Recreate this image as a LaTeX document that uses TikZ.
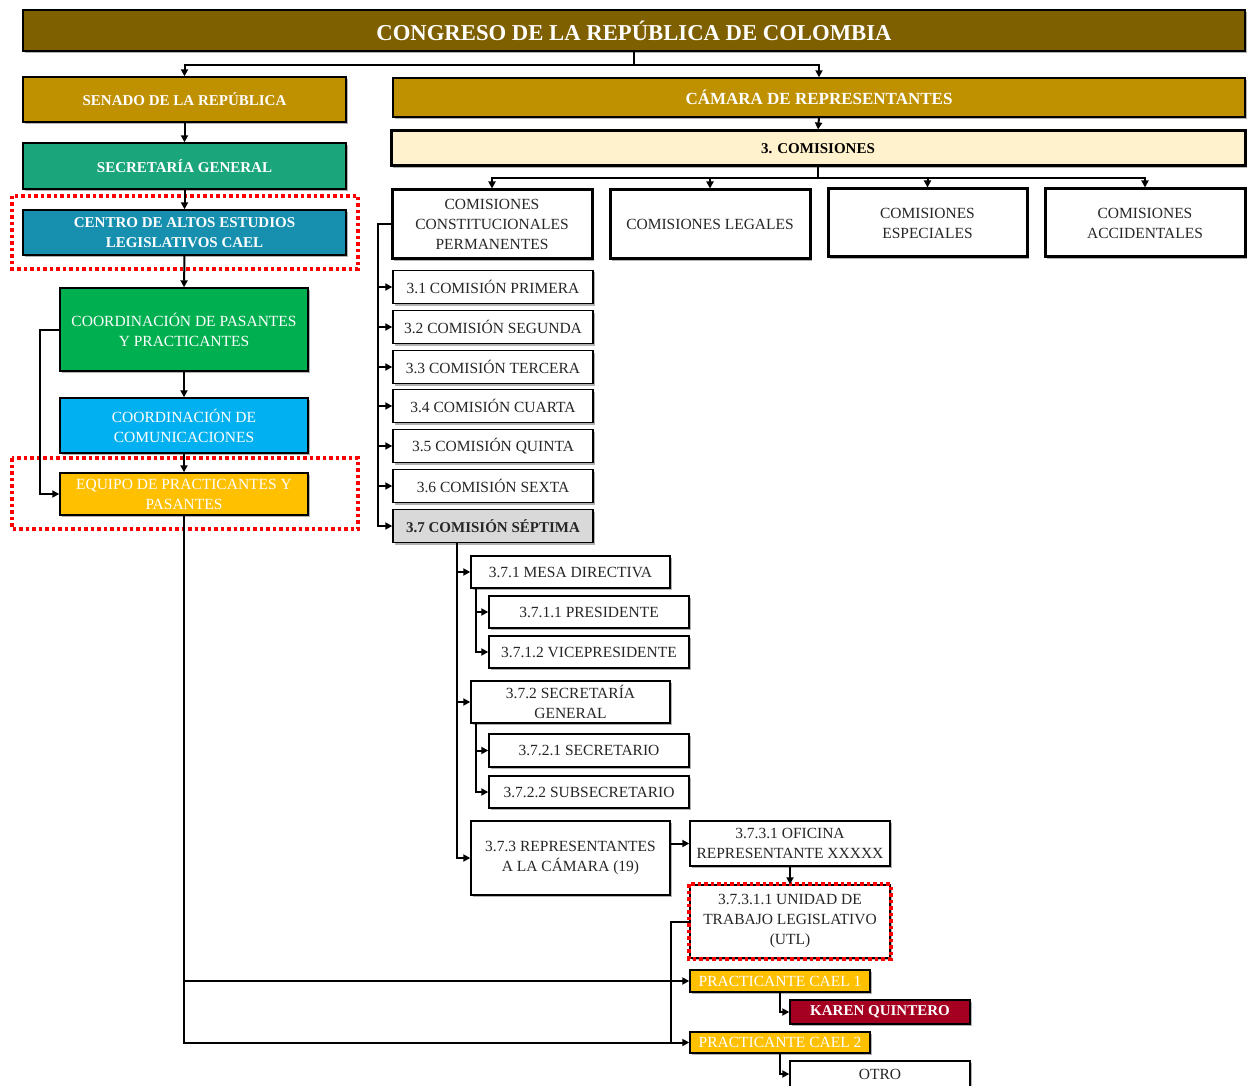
\documentclass[tikz,border=0pt]{standalone}
\usepackage{fontspec}
\setmainfont{Liberation Serif}
\usetikzlibrary{arrows.meta,shadows}
\definecolor{cTitle}{HTML}{7F6000}
\definecolor{cGold}{HTML}{BF9000}
\definecolor{cSec}{HTML}{1BA57A}
\definecolor{cCael}{HTML}{1790AF}
\definecolor{cGreen}{HTML}{00B050}
\definecolor{cBlue}{HTML}{00B0F0}
\definecolor{cAmber}{HTML}{FFC000}
\definecolor{cCream}{HTML}{FFF2CC}
\definecolor{cGray}{HTML}{D9D9D9}
\definecolor{cRed}{HTML}{A50021}
\definecolor{cDot}{HTML}{FF0000}
\newcommand\regf{\fontsize{15.5}{20}\selectfont}
\newcommand\bldf{\fontsize{15}{20}\selectfont\bfseries}
\newcommand\titf{\fontsize{22.7}{26}\selectfont\bfseries}
\newcommand\camf{\fontsize{17}{20}\selectfont\bfseries}
\begin{document}
\begin{tikzpicture}[x=1pt,y=-1pt,
  shad/.style={drop shadow={shadow xshift=2pt,shadow yshift=-2pt,opacity=0.3,fill=black}},
  box/.style={draw=black,line width=1.4pt,inner sep=0pt,align=center,font=\regf,text=black!85,fill=white,shad},
  hbox/.style={box,line width=3pt},
  cbox/.style={box,text=white,font=\bldf},
  wbox/.style={box,text=white},
  conn/.style={draw=black,line width=2pt},
  arr/.style={conn,-{Triangle[length=7pt,width=7pt]}},
  reddot/.style={draw=cDot,line width=3.5pt,dash pattern=on 3.5pt off 3pt}]
\useasboundingbox (0,0) rectangle (1248,1086);

% left column
\node[cbox,fill=cTitle,line width=1.8pt,minimum width=1222,minimum height=41,font=\titf] (title) at (634,30.5) {CONGRESO DE LA REPÚBLICA DE COLOMBIA};
\node[cbox,fill=cGold,minimum width=323,minimum height=45] (senado) at (184.5,99.5) {SENADO DE LA REPÚBLICA};
\node[cbox,fill=cGold,minimum width=852,minimum height=39,font=\camf] (camara) at (819,97.5) {CÁMARA DE REPRESENTANTES};
\node[cbox,fill=cSec,minimum width=323,minimum height=46] (secgen) at (184.5,166) {SECRETARÍA GENERAL};
\node[cbox,fill=cCael,minimum width=323,minimum height=45] (cael) at (184.5,232.5) {CENTRO DE ALTOS ESTUDIOS\\LEGISLATIVOS CAEL};
\node[wbox,fill=cGreen,minimum width=248,minimum height=83] (coordp) at (184,329.5) {COORDINACIÓN DE PASANTES\\Y PRACTICANTES};
\node[wbox,fill=cBlue,minimum width=248,minimum height=55] (coordc) at (184,425.5) {COORDINACIÓN DE\\COMUNICACIONES};
\node[wbox,fill=cAmber,minimum width=248,minimum height=42] (equipo) at (184,494) {EQUIPO DE PRACTICANTES Y\\PASANTES};
\draw[reddot] (12,196) rectangle (358,269);
\draw[reddot] (12,458) rectangle (358,529);

% commissions
\node[hbox,fill=cCream,minimum width=854,minimum height=35,font=\bldf,text=black] (comis) at (818,148.5) {3. COMISIONES};
\node[hbox,minimum width=200,minimum height=69] (ccp) at (492,224.5) {COMISIONES\\CONSTITUCIONALES\\PERMANENTES};
\node[hbox,minimum width=200,minimum height=69] (cl) at (710,224.5) {COMISIONES LEGALES};
\node[hbox,minimum width=199,minimum height=68] (ce) at (927.5,223) {COMISIONES\\ESPECIALES};
\node[hbox,minimum width=200,minimum height=68] (ca) at (1145,223) {COMISIONES\\ACCIDENTALES};

\node[box,minimum width=200,minimum height=33] (c31) at (493,287) {3.1 COMISIÓN PRIMERA};
\node[box,minimum width=200,minimum height=33] (c32) at (493,327) {3.2 COMISIÓN SEGUNDA};
\node[box,minimum width=200,minimum height=33] (c33) at (493,367) {3.3 COMISIÓN TERCERA};
\node[box,minimum width=200,minimum height=33] (c34) at (493,406) {3.4 COMISIÓN CUARTA};
\node[box,minimum width=200,minimum height=33] (c35) at (493,446) {3.5 COMISIÓN QUINTA};
\node[box,minimum width=200,minimum height=33] (c36) at (493,486) {3.6 COMISIÓN SEXTA};
\node[box,fill=cGray,minimum width=200,minimum height=33,font=\bldf,text=black!85] (c37) at (493,526) {3.7 COMISIÓN SÉPTIMA};

\node[box,minimum width=199,minimum height=32] (m371) at (570.5,572) {3.7.1 MESA DIRECTIVA};
\node[box,minimum width=200,minimum height=32] (m3711) at (589,612) {3.7.1.1 PRESIDENTE};
\node[box,minimum width=200,minimum height=32] (m3712) at (589,652) {3.7.1.2 VICEPRESIDENTE};
\node[box,minimum width=199,minimum height=42] (m372) at (570.5,702) {3.7.2 SECRETARÍA\\GENERAL};
\node[box,minimum width=200,minimum height=33] (m3721) at (589,750.5) {3.7.2.1 SECRETARIO};
\node[box,minimum width=200,minimum height=32] (m3722) at (589,792) {3.7.2.2 SUBSECRETARIO};
\node[box,minimum width=199,minimum height=74] (m373) at (570.5,858) {3.7.3 REPRESENTANTES\\A LA CÁMARA (19)};
\node[box,minimum width=200,minimum height=45] (m3731) at (790,843.5) {3.7.3.1 OFICINA\\REPRESENTANTE XXXXX};
\node[box,minimum width=200,minimum height=73] (utl) at (790,921.5) {3.7.3.1.1 UNIDAD DE\\TRABAJO LEGISLATIVO\\(UTL)};
\draw[reddot,line width=4pt] (utl.north west) rectangle (utl.south east);
\node[wbox,fill=cAmber,minimum width=180,minimum height=22] (pc1) at (780,981) {PRACTICANTE CAEL 1};
\node[cbox,fill=cRed,minimum width=180,minimum height=24] (karen) at (880,1012) {KAREN QUINTERO};
\node[wbox,fill=cAmber,minimum width=180,minimum height=21] (pc2) at (780,1042.5) {PRACTICANTE CAEL 2};
\node[box,minimum width=180,minimum height=26] (otro) at (880,1074) {OTRO};

% connectors top
\draw[conn] (title.south) -- ++(0,13) coordinate (tj);
\draw[arr] (tj) -| (senado.north);
\draw[arr] (tj) -| (camara.north);
\draw[arr] (senado.south) -- (secgen.north);
\draw[arr] (secgen.south) -- (cael.north);
\draw[arr] (cael.south) -- (coordp.north);
\draw[arr] (coordp.south) -- (coordc.north);
\draw[arr] (coordc.south) -- (equipo.north);
\draw[arr] (coordp.west) -- ++(-19,0) |- (equipo.west);
\draw[arr] (equipo.south) |- (pc2.west);
\draw[arr] (equipo.south |- pc1.west) -- (pc1.west);
\draw[conn] (utl.west) -- ++(-18,0) coordinate (u1) -- (u1 |- pc2.west);

% right connectors
\draw[arr] (camara.south) -- (comis.north);
\draw[conn] (comis.south) -- ++(0,11) coordinate (cj);
\draw[arr] (cj) -| (ccp.north);
\draw[arr] (cj) -| (cl.north);
\draw[arr] (cj) -| (ce.north);
\draw[arr] (cj) -| (ca.north);
\draw[arr] (ccp.west) -- ++(-13,0) coordinate (cv) |- (c37.west);
\foreach \n in {c31,c32,c33,c34,c35,c36} \draw[arr] (cv |- \n.west) -- (\n.west);
\coordinate (v37) at ([xshift=65pt]c37.south west);
\draw[arr] (v37) |- (m373.west);
\draw[arr] (v37 |- m371.west) -- (m371.west);
\draw[arr] (v37 |- m372.west) -- (m372.west);
\coordinate (v371) at ([xshift=6pt]m371.south west);
\draw[arr] (v371) |- (m3712.west);
\draw[arr] (v371 |- m3711.west) -- (m3711.west);
\coordinate (v372) at ([xshift=6pt]m372.south west);
\draw[arr] (v372) |- (m3722.west);
\draw[arr] (v372 |- m3721.west) -- (m3721.west);
\draw[arr] (m373.east |- m3731.west) -- (m3731.west);
\draw[arr] (m3731.south) -- (utl.north);
\draw[arr] (pc1.south) |- (karen.west);
\draw[arr] (pc2.south) |- (otro.west);
\end{tikzpicture}
\end{document}
